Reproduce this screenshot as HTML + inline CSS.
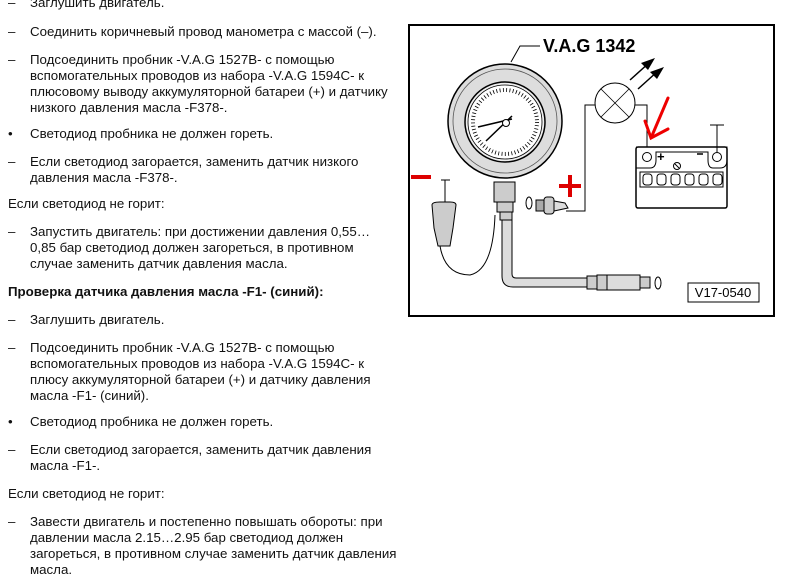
<!DOCTYPE html>
<html><head><meta charset="utf-8"><style>
body{margin:0;width:786px;height:582px;background:#fff;position:relative;overflow:hidden;font-family:"Liberation Sans",Arial,sans-serif;font-size:13.3px;color:#111}
.l{position:absolute;left:30px;line-height:16px;white-space:nowrap}
.d{position:absolute;left:8px;line-height:16px}
.p{position:absolute;left:8px;line-height:16px;white-space:nowrap}
b{font-weight:bold}
svg{position:absolute;left:0;top:0}
</style></head><body>
<span class="d" style="top:-5px">–</span><span class="l" style="top:-5px">Заглушить двигатель.</span>
<span class="d" style="top:24px">–</span><span class="l" style="top:24px">Соединить коричневый провод манометра с массой (–).</span>
<span class="d" style="top:52px">–</span><span class="l" style="top:52px">Подсоединить пробник -V.A.G 1527B- с помощью<br>вспомогательных проводов из набора -V.A.G 1594C- к<br>плюсовому выводу аккумуляторной батареи (+) и датчику<br>низкого давления масла -F378-.</span>
<span class="d" style="top:126px">•</span><span class="l" style="top:126px">Светодиод пробника не должен гореть.</span>
<span class="d" style="top:154px">–</span><span class="l" style="top:154px">Если светодиод загорается, заменить датчик низкого<br>давления масла -F378-.</span>
<span class="p" style="top:196px">Если светодиод не горит:</span>
<span class="d" style="top:224px">–</span><span class="l" style="top:224px">Запустить двигатель: при достижении давления 0,55…<br>0,85 бар светодиод должен загореться, в противном<br>случае заменить датчик давления масла.</span>
<span class="p" style="top:284px"><b>Проверка датчика давления масла -F1- (синий):</b></span>
<span class="d" style="top:312px">–</span><span class="l" style="top:312px">Заглушить двигатель.</span>
<span class="d" style="top:340px">–</span><span class="l" style="top:340px">Подсоединить пробник -V.A.G 1527B- с помощью<br>вспомогательных проводов из набора -V.A.G 1594C- к<br>плюсу аккумуляторной батареи (+) и датчику давления<br>масла -F1- (синий).</span>
<span class="d" style="top:414px">•</span><span class="l" style="top:414px">Светодиод пробника не должен гореть.</span>
<span class="d" style="top:442px">–</span><span class="l" style="top:442px">Если светодиод загорается, заменить датчик давления<br>масла -F1-.</span>
<span class="p" style="top:486px">Если светодиод не горит:</span>
<span class="d" style="top:514px">–</span><span class="l" style="top:514px">Завести двигатель и постепенно повышать обороты: при<br>давлении масла 2.15…2.95 бар светодиод должен<br>загореться, в противном случае заменить датчик давления<br>масла.</span>

<svg width="786" height="582" viewBox="0 0 786 582">
<rect x="409" y="25" width="365" height="291" fill="#fff" stroke="#000" stroke-width="2"/>
<text x="543" y="52" font-family="Liberation Sans" font-weight="bold" font-size="18">V.A.G 1342</text>
<polyline points="540,46 520,46 511,62" fill="none" stroke="#000"/>
<circle cx="505" cy="121" r="57" fill="#ddd" stroke="#000" stroke-width="1.5"/>
<circle cx="505" cy="121" r="52" fill="none" stroke="#555" stroke-width="0.8"/>
<circle cx="505" cy="122" r="40" fill="#eee" stroke="#000" stroke-width="1.5"/>
<circle cx="505" cy="122" r="37" fill="#fff" stroke="#000" stroke-width="0.8"/>
<circle cx="505" cy="122" r="32" fill="none" stroke="#000" stroke-width="4" stroke-dasharray="0.8 2.5"/>
<line x1="478" y1="127" x2="512" y2="119" stroke="#000" stroke-width="1.5"/>
<line x1="486" y1="141" x2="512" y2="116" stroke="#000" stroke-width="1.5"/>
<circle cx="506" cy="123" r="3.5" fill="#fff" stroke="#000"/>
<rect x="494" y="182" width="21" height="20" fill="#ccc" stroke="#000"/>
<rect x="497" y="202" width="16" height="10" fill="#ccc" stroke="#000"/>
<rect x="500" y="212" width="12" height="8" fill="#ccc" stroke="#000"/>
<path d="M502,220 V276 Q502,287 513,287 H590 V278 H516 Q512,278 512,274 V220 Z" fill="#ddd" stroke="#000"/>
<rect x="587" y="276" width="10" height="13" fill="#ccc" stroke="#000"/>
<rect x="597" y="275" width="10" height="15" fill="#ccc" stroke="#000"/>
<rect x="607" y="275" width="33" height="15" fill="#ddd" stroke="#000"/>
<rect x="640" y="277" width="10" height="11" fill="#ccc" stroke="#000"/>
<ellipse cx="658" cy="283" rx="3" ry="6" fill="none" stroke="#000"/>
<path d="M441,180 H450 M445,180 V203" stroke="#000" fill="none"/>
<path d="M432,205 Q432,202 440,202 H450 Q456,202 456,205 L453,228 L450,246 H438 L434,228 Z" fill="#ccc" stroke="#000"/>
<path d="M440,246 Q445,275 470,275 Q493,270 495,215" fill="none" stroke="#000"/>
<rect x="411" y="175" width="20" height="4" fill="#d00"/>
<ellipse cx="529" cy="203" rx="3" ry="6" fill="none" stroke="#000"/>
<rect x="536" y="200" width="8" height="11" fill="#aaa" stroke="#000"/>
<rect x="544" y="197" width="10" height="17" rx="3" fill="#ccc" stroke="#000"/>
<path d="M554,201 L565,203 L568,208 L554,211 Z" fill="#ddd" stroke="#000"/>
<rect x="559" y="184" width="22" height="4" fill="#d00"/>
<rect x="568" y="175" width="4" height="22" fill="#d00"/>
<polyline points="566,211 585,211 585,105 595,105" fill="none" stroke="#000"/>
<polyline points="635,105 647,105 647,152" fill="none" stroke="#000"/>
<circle cx="615" cy="103" r="20" fill="#fff" stroke="#000"/>
<line x1="601" y1="89" x2="629" y2="117" stroke="#000" stroke-width="0.8"/>
<line x1="629" y1="89" x2="601" y2="117" stroke="#000" stroke-width="0.8"/>
<line x1="630" y1="80" x2="650" y2="62" stroke="#000" stroke-width="1.5"/>
<path d="M655,58 L641,63 L648,70 Z" fill="#000"/>
<line x1="638" y1="89" x2="658" y2="71" stroke="#000" stroke-width="1.5"/>
<path d="M664,67 L650,72 L657,79 Z" fill="#000"/>
<rect x="636" y="147" width="91" height="61" rx="2" fill="#fff" stroke="#000" stroke-width="1.5"/>
<path d="M636,147 H727 V160 Q727,168 720,168 H713 Q708,168 708,160 V152 H656 V160 Q656,168 650,168 H636" fill="none" stroke="#000"/>
<circle cx="647" cy="157" r="4.5" fill="#fff" stroke="#000"/>
<circle cx="717" cy="157" r="4.5" fill="#fff" stroke="#000"/>
<line x1="717" y1="125" x2="717" y2="152" stroke="#000"/>
<line x1="710" y1="125" x2="724" y2="125" stroke="#000"/>
<text x="657" y="161" font-size="13" font-weight="bold" font-family="Liberation Sans">+</text>
<line x1="697" y1="154" x2="703" y2="154" stroke="#000" stroke-width="1.5"/>
<circle cx="677" cy="166" r="3.5" fill="#fff" stroke="#000"/>
<line x1="675" y1="164" x2="679" y2="168" stroke="#000"/>
<rect x="640" y="172" width="83" height="15" fill="#fff" stroke="#000"/>
<g fill="#fff" stroke="#000"><rect x="643" y="174" width="9" height="11" rx="3"/><rect x="657" y="174" width="9" height="11" rx="3"/><rect x="671" y="174" width="9" height="11" rx="3"/><rect x="685" y="174" width="9" height="11" rx="3"/><rect x="699" y="174" width="9" height="11" rx="3"/><rect x="713" y="174" width="9" height="11" rx="3"/></g>
<path d="M668,98 L651,138 M645,121 L651,138 L668,129" fill="none" stroke="#e00" stroke-width="3" stroke-linecap="round"/>
<rect x="688" y="283" width="71" height="19" fill="#fff" stroke="#000"/>
<text x="723" y="297" text-anchor="middle" font-size="13" font-family="Liberation Sans">V17-0540</text>
</svg>
</body></html>
